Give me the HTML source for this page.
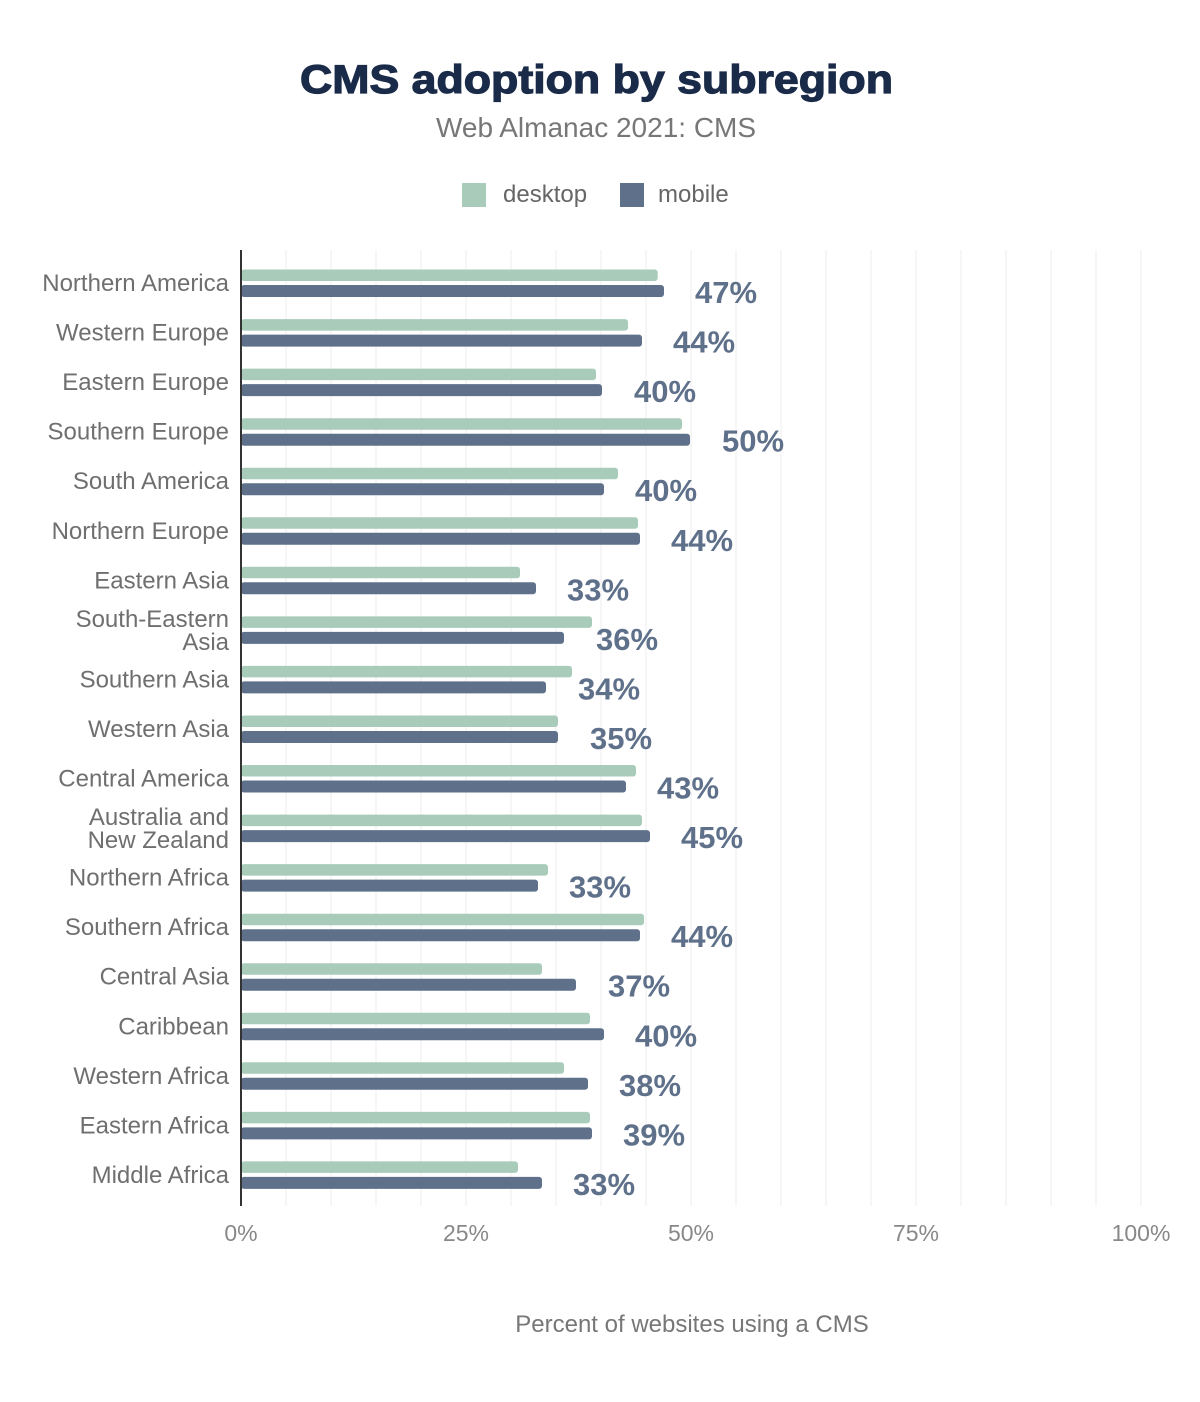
<!DOCTYPE html>
<html><head><meta charset="utf-8"><style>
body{margin:0;background:#fff;}
svg{display:block;font-family:"Liberation Sans",sans-serif;}
.yl{font-size:24px;fill:#6f6f6f;text-anchor:end}
.d{fill:#a8cbba}.m{fill:#5f718a}
.v{font-size:31px;font-weight:bold;fill:#5f718a}
.t{font-size:23px;fill:#888;text-anchor:middle}
</style></head><body>
<svg width="1200" height="1402" viewBox="0 0 1200 1402">
<rect width="1200" height="1402" fill="#fff"/>
<text x="300" y="93" textLength="593" lengthAdjust="spacingAndGlyphs" style="font-size:40px;font-weight:900;fill:#1a2b49;stroke:#1a2b49;stroke-width:1.2">CMS adoption by subregion</text>
<text x="596" y="137" text-anchor="middle" style="font-size:28px;fill:#777">Web Almanac 2021: CMS</text>
<rect x="462" y="183" width="24" height="24" class="d"/>
<text x="503" y="202" style="font-size:24px;fill:#666">desktop</text>
<rect x="620" y="183" width="24" height="24" class="m"/>
<text x="658" y="202" style="font-size:24px;fill:#666">mobile</text>
<g stroke="#eee" stroke-width="1">
<line x1="286" y1="250" x2="286" y2="1206"/><line x1="331" y1="250" x2="331" y2="1206"/><line x1="376" y1="250" x2="376" y2="1206"/><line x1="421" y1="250" x2="421" y2="1206"/><line x1="466" y1="250" x2="466" y2="1206"/><line x1="511" y1="250" x2="511" y2="1206"/><line x1="556" y1="250" x2="556" y2="1206"/><line x1="601" y1="250" x2="601" y2="1206"/><line x1="646" y1="250" x2="646" y2="1206"/><line x1="691" y1="250" x2="691" y2="1206"/><line x1="736" y1="250" x2="736" y2="1206"/><line x1="781" y1="250" x2="781" y2="1206"/><line x1="826" y1="250" x2="826" y2="1206"/><line x1="871" y1="250" x2="871" y2="1206"/><line x1="916" y1="250" x2="916" y2="1206"/><line x1="961" y1="250" x2="961" y2="1206"/><line x1="1006" y1="250" x2="1006" y2="1206"/><line x1="1051" y1="250" x2="1051" y2="1206"/><line x1="1096" y1="250" x2="1096" y2="1206"/><line x1="1141" y1="250" x2="1141" y2="1206"/>
</g>

<g transform="translate(0,283)"><text x="229" y="8" class="yl">Northern America</text><rect x="241" y="-13.5" width="416.7" height="11.5" rx="3" class="d"/><rect x="241" y="2" width="423" height="12" rx="3" class="m"/><text x="695" y="20" class="v">47%</text></g>
<g transform="translate(0,332.6)"><text x="229" y="8" class="yl">Western Europe</text><rect x="241" y="-13.5" width="387" height="11.5" rx="3" class="d"/><rect x="241" y="2" width="401" height="12" rx="3" class="m"/><text x="673" y="20" class="v">44%</text></g>
<g transform="translate(0,382.1)"><text x="229" y="8" class="yl">Eastern Europe</text><rect x="241" y="-13.5" width="355" height="11.5" rx="3" class="d"/><rect x="241" y="2" width="361" height="12" rx="3" class="m"/><text x="634" y="20" class="v">40%</text></g>
<g transform="translate(0,431.7)"><text x="229" y="8" class="yl">Southern Europe</text><rect x="241" y="-13.5" width="441" height="11.5" rx="3" class="d"/><rect x="241" y="2" width="449" height="12" rx="3" class="m"/><text x="722" y="20" class="v">50%</text></g>
<g transform="translate(0,481.2)"><text x="229" y="8" class="yl">South America</text><rect x="241" y="-13.5" width="377" height="11.5" rx="3" class="d"/><rect x="241" y="2" width="363" height="12" rx="3" class="m"/><text x="635" y="20" class="v">40%</text></g>
<g transform="translate(0,530.8)"><text x="229" y="8" class="yl">Northern Europe</text><rect x="241" y="-13.5" width="397" height="11.5" rx="3" class="d"/><rect x="241" y="2" width="399" height="12" rx="3" class="m"/><text x="671" y="20" class="v">44%</text></g>
<g transform="translate(0,580.3)"><text x="229" y="8" class="yl">Eastern Asia</text><rect x="241" y="-13.5" width="279" height="11.5" rx="3" class="d"/><rect x="241" y="2" width="295" height="12" rx="3" class="m"/><text x="567" y="20" class="v">33%</text></g>
<g transform="translate(0,629.9)"><text x="229" y="-3" class="yl">South-Eastern</text><text x="229" y="20" class="yl">Asia</text><rect x="241" y="-13.5" width="351" height="11.5" rx="3" class="d"/><rect x="241" y="2" width="323" height="12" rx="3" class="m"/><text x="596" y="20" class="v">36%</text></g>
<g transform="translate(0,679.4)"><text x="229" y="8" class="yl">Southern Asia</text><rect x="241" y="-13.5" width="331" height="11.5" rx="3" class="d"/><rect x="241" y="2" width="305" height="12" rx="3" class="m"/><text x="578" y="20" class="v">34%</text></g>
<g transform="translate(0,729)"><text x="229" y="8" class="yl">Western Asia</text><rect x="241" y="-13.5" width="317" height="11.5" rx="3" class="d"/><rect x="241" y="2" width="317" height="12" rx="3" class="m"/><text x="590" y="20" class="v">35%</text></g>
<g transform="translate(0,778.5)"><text x="229" y="8" class="yl">Central America</text><rect x="241" y="-13.5" width="395" height="11.5" rx="3" class="d"/><rect x="241" y="2" width="385" height="12" rx="3" class="m"/><text x="657" y="20" class="v">43%</text></g>
<g transform="translate(0,828.1)"><text x="229" y="-3" class="yl">Australia and</text><text x="229" y="20" class="yl">New Zealand</text><rect x="241" y="-13.5" width="401" height="11.5" rx="3" class="d"/><rect x="241" y="2" width="409" height="12" rx="3" class="m"/><text x="681" y="20" class="v">45%</text></g>
<g transform="translate(0,877.6)"><text x="229" y="8" class="yl">Northern Africa</text><rect x="241" y="-13.5" width="307" height="11.5" rx="3" class="d"/><rect x="241" y="2" width="297" height="12" rx="3" class="m"/><text x="569" y="20" class="v">33%</text></g>
<g transform="translate(0,927.2)"><text x="229" y="8" class="yl">Southern Africa</text><rect x="241" y="-13.5" width="403" height="11.5" rx="3" class="d"/><rect x="241" y="2" width="399" height="12" rx="3" class="m"/><text x="671" y="20" class="v">44%</text></g>
<g transform="translate(0,976.7)"><text x="229" y="8" class="yl">Central Asia</text><rect x="241" y="-13.5" width="301" height="11.5" rx="3" class="d"/><rect x="241" y="2" width="335" height="12" rx="3" class="m"/><text x="608" y="20" class="v">37%</text></g>
<g transform="translate(0,1026.3)"><text x="229" y="8" class="yl">Caribbean</text><rect x="241" y="-13.5" width="349" height="11.5" rx="3" class="d"/><rect x="241" y="2" width="363" height="12" rx="3" class="m"/><text x="635" y="20" class="v">40%</text></g>
<g transform="translate(0,1075.8)"><text x="229" y="8" class="yl">Western Africa</text><rect x="241" y="-13.5" width="323" height="11.5" rx="3" class="d"/><rect x="241" y="2" width="347" height="12" rx="3" class="m"/><text x="619" y="20" class="v">38%</text></g>
<g transform="translate(0,1125.4)"><text x="229" y="8" class="yl">Eastern Africa</text><rect x="241" y="-13.5" width="349" height="11.5" rx="3" class="d"/><rect x="241" y="2" width="351" height="12" rx="3" class="m"/><text x="623" y="20" class="v">39%</text></g>
<g transform="translate(0,1174.9)"><text x="229" y="8" class="yl">Middle Africa</text><rect x="241" y="-13.5" width="277" height="11.5" rx="3" class="d"/><rect x="241" y="2" width="301" height="12" rx="3" class="m"/><text x="573" y="20" class="v">33%</text></g>

<line x1="241" y1="250" x2="241" y2="1206" stroke="#333" stroke-width="2"/>
<text x="241" y="1241" class="t">0%</text>
<text x="466" y="1241" class="t">25%</text>
<text x="691" y="1241" class="t">50%</text>
<text x="916" y="1241" class="t">75%</text>
<text x="1141" y="1241" class="t">100%</text>
<text x="692" y="1332" text-anchor="middle" style="font-size:24px;fill:#777">Percent of websites using a CMS</text>
</svg>
</body></html>
